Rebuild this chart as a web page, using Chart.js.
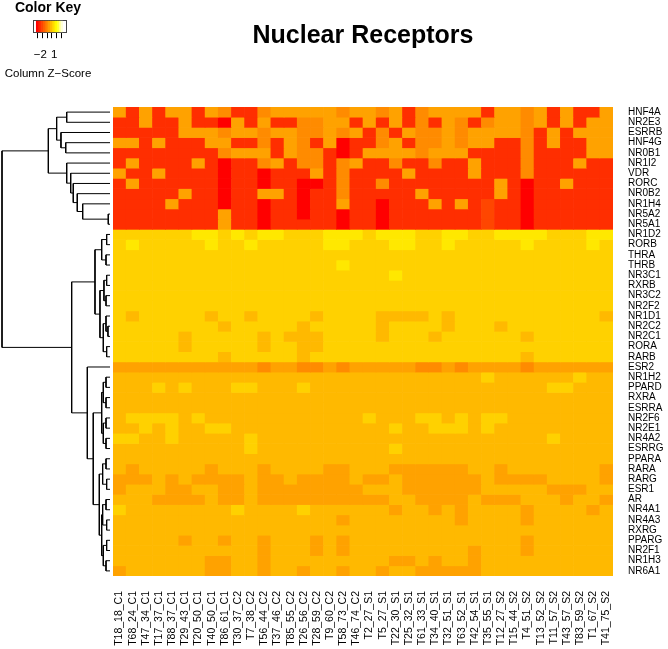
<!DOCTYPE html>
<html><head><meta charset="utf-8">
<script src="https://cdn.jsdelivr.net/npm/chart.js@4.4.1/dist/chart.umd.min.js"></script>
<style>
html,body{margin:0;padding:0;background:#fff;}
#wrap{position:relative;width:668px;height:649px;overflow:hidden;background:#fff;}
canvas{position:absolute;}
</style></head><body>
<div id="wrap">
<canvas id="dendro" width="113" height="649" style="left:0;top:0;width:113px;height:649px"></canvas>
<canvas id="key" width="96" height="92" style="left:0;top:0;width:96px;height:92px"></canvas>
<canvas id="heat" width="555" height="649" style="left:113px;top:0;width:555px;height:649px"></canvas>
</div>
<script>
const sampleCols = ['T18_18_C1','T68_24_C1','T47_34_C1','T17_37_C1','T88_37_C1','T29_43_C1','T20_50_C1','T40_50_C1','T86_61_C1',
 'T30_37_C2','T7_38_C2','T56_44_C2','T37_46_C2','T85_55_C2','T26_56_C2','T28_59_C2','T9_60_C2','T58_73_C2','T46_74_C2',
 'T2_27_S1','T5_27_S1','T22_30_S1','T25_32_S1','T61_33_S1','T34_40_S1','T32_51_S1','T63_52_S1','T42_54_S1','T35_55_S1',
 'T12_27_S2','T15_44_S2','T4_51_S2','T13_52_S2','T11_57_S2','T43_57_S2','T83_59_S2','T1_67_S2','T41_75_S2'];

const rowGenes = ['HNF4A','NR2E3','ESRRB','HNF4G','NR0B1','NR1I2','VDR','RORC','NR0B2','NR1H4','NR5A2','NR5A1',
 'NR1D2','RORB','THRA','THRB','NR3C1','RXRB','NR3C2','NR2F2','NR1D1','NR2C2','NR2C1','RORA','RARB',
 'ESR2','NR1H2','PPARD','RXRA','ESRRA','NR2F6','NR2E1','NR4A2','ESRRG','PPARA','RARA','RARG','ESR1','AR',
 'NR4A1','NR4A3','RXRG','PPARG','NR2F1','NR1H3','NR6A1'];

// heat.colors(15): colour bins of the column Z-score
const heatPalette = ['#FF0000','#FF1700','#FF2E00','#FF4600','#FF5D00','#FF7400','#FF8B00','#FFA200',
 '#FFB900','#FFD100','#FFE800','#FFFF00','#FFFF2B','#FFFF80','#FFFFD5'];
const keyRange = [-2.85, 2.85];
const keyTicks = [-2, -1, 0, 1, 2];
const keyTickLabels = ['\u22122', '', '', '1', ''];

// colour-bin index of every cell (row = gene, column = sample)
const zLevels = [
 [7,2,7,2,7,7,2,7,6,2, 2,6,7,7,7,7,7,6,7,7, 6,7,2,6,7,7,7,7,2,7, 7,6,7,2,7,2,2,7],
 [2,2,7,2,2,7,2,2,0,7, 2,7,2,2,6,6,7,7,2,7, 2,7,2,6,2,7,6,2,6,7, 7,6,7,2,7,2,7,7],
 [2,2,2,2,2,7,7,7,6,7, 7,6,7,7,6,6,7,6,7,2, 6,2,7,6,6,7,6,7,7,7, 7,6,2,7,2,7,7,7],
 [7,7,2,7,2,2,2,7,7,2, 2,6,2,7,6,2,7,0,2,2, 6,7,2,6,6,7,6,7,7,2, 2,6,2,7,2,2,7,7],
 [2,2,2,2,2,2,2,2,6,7, 7,7,2,7,6,6,2,0,2,7, 7,7,7,6,7,7,7,2,2,2, 2,6,2,2,2,2,7,7],
 [2,7,2,2,2,2,7,2,0,2, 2,6,7,2,6,6,2,6,7,2, 2,6,2,2,6,2,2,7,2,2, 2,6,2,2,2,7,2,2],
 [7,2,2,7,2,2,2,2,0,2, 2,0,2,2,2,7,2,6,2,2, 2,2,7,2,2,2,2,7,2,2, 2,6,2,2,2,2,2,2],
 [2,7,2,2,2,2,2,2,0,2, 2,0,2,2,0,0,2,6,2,2, 6,2,2,2,2,2,2,2,2,7, 2,0,2,2,7,2,2,2],
 [2,2,2,2,2,7,2,2,0,2, 2,7,7,2,0,2,2,6,2,2, 2,2,2,7,2,2,2,2,2,7, 2,0,2,2,2,2,2,2],
 [2,2,2,2,7,2,2,2,0,2, 2,0,2,2,0,2,2,7,2,2, 0,2,2,2,7,2,7,2,3,2, 2,0,2,2,2,2,2,2],
 [2,2,2,2,2,2,2,2,7,2, 2,0,2,2,0,2,2,0,2,2, 0,2,2,2,2,2,2,2,3,2, 2,0,2,2,2,2,2,2],
 [2,2,2,2,2,2,2,2,7,2, 2,0,2,2,2,2,2,0,2,2, 0,2,2,2,2,2,2,2,3,2, 2,0,2,2,2,2,2,2],
 [9,9,9,9,9,9,10,10,9,10, 9,10,10,9,9,9,10,10,10,9, 10,10,10,9,9,10,10,9,9,10, 10,10,10,9,9,9,10,10],
 [9,10,9,9,9,9,9,10,9,9, 10,9,9,9,9,9,10,10,9,9, 9,10,10,9,9,10,9,9,9,9, 9,10,9,9,9,9,10,9],
 [9,9,9,9,9,9,9,9,9,9, 9,9,9,9,9,9,9,9,9,9, 9,9,9,9,9,9,9,9,9,9, 9,9,9,9,9,9,9,9],
 [9,9,9,9,9,9,9,9,9,9, 9,9,9,9,9,9,9,10,9,9, 9,9,9,9,9,9,9,9,9,9, 9,9,9,9,9,9,9,9],
 [9,9,9,9,9,9,9,9,9,9, 9,9,9,9,9,9,9,9,9,9, 9,10,9,9,9,9,9,9,9,9, 9,9,9,9,9,9,9,9],
 [9,9,9,9,9,9,9,9,9,9, 9,9,9,9,9,9,9,9,9,9, 9,9,9,9,9,9,9,9,9,9, 9,9,9,9,9,9,9,9],
 [9,9,9,9,9,9,9,9,9,9, 9,9,9,9,9,9,9,9,9,9, 9,9,9,9,9,9,9,9,9,9, 9,9,9,9,9,9,9,9],
 [9,9,9,9,9,9,9,9,9,9, 9,9,9,9,9,9,9,9,9,9, 9,9,9,9,9,9,9,9,9,9, 9,9,9,9,9,9,9,9],
 [9,8,9,9,9,9,9,8,9,9, 8,9,9,9,9,8,9,9,9,9, 8,8,8,8,9,8,9,9,9,9, 9,9,9,9,9,9,9,8],
 [9,9,9,9,9,9,9,9,8,9, 9,9,9,9,8,9,9,9,9,9, 8,9,9,9,9,8,9,9,9,8, 9,9,9,9,9,9,9,9],
 [9,9,9,9,9,8,9,9,9,9, 9,8,9,8,8,8,9,9,9,9, 8,9,9,9,8,9,9,9,9,9, 9,8,9,9,9,9,9,9],
 [9,9,9,9,9,8,9,9,9,9, 9,8,9,9,8,8,9,9,9,9, 9,9,9,9,9,9,9,9,9,9, 9,9,9,9,9,9,9,9],
 [9,9,9,9,9,9,9,9,8,9, 9,9,9,9,8,9,9,9,9,9, 9,9,9,9,9,9,9,9,9,9, 9,8,9,9,9,9,9,9],
 [7,7,7,7,7,7,7,7,7,7, 7,6,7,7,6,6,7,6,7,7, 7,7,7,6,6,7,6,7,7,7, 7,6,7,7,7,7,7,7],
 [8,8,8,8,8,8,8,8,8,8, 8,8,8,8,8,8,8,8,8,8, 8,8,8,8,8,8,8,8,9,8, 8,8,8,8,8,9,8,8],
 [8,8,8,9,8,9,8,8,8,9, 9,8,8,8,9,8,8,8,8,8, 8,8,8,8,8,8,8,8,8,8, 8,8,8,9,9,8,8,8],
 [8,8,8,8,8,8,8,8,8,8, 8,8,8,8,8,8,8,8,8,8, 8,8,8,8,8,8,8,8,8,8, 8,8,8,8,8,8,8,8],
 [8,8,8,8,8,8,8,8,8,8, 8,8,8,8,8,8,8,8,8,8, 8,8,8,8,8,8,8,8,8,8, 8,8,8,8,8,8,8,8],
 [8,9,9,9,9,8,9,8,8,8, 8,8,8,8,8,8,8,8,8,9, 8,8,8,9,9,8,9,8,9,9, 8,8,8,8,8,8,8,8],
 [8,8,9,8,9,8,8,9,9,8, 8,8,8,8,8,8,8,8,8,8, 8,9,8,8,9,9,9,8,9,8, 8,8,8,8,8,8,8,8],
 [9,9,8,8,9,8,8,8,8,8, 9,8,8,8,8,8,8,8,8,8, 8,8,8,8,8,8,8,8,8,8, 8,8,8,9,8,8,8,8],
 [8,8,8,8,8,8,8,8,8,8, 9,8,8,8,8,8,8,8,8,8, 8,9,8,8,8,8,8,8,8,8, 8,8,8,8,8,8,8,8],
 [8,8,8,8,8,8,8,8,8,8, 8,8,8,8,8,8,8,8,8,8, 8,8,8,8,8,8,8,8,8,8, 8,8,8,8,8,8,8,8],
 [8,7,8,8,8,8,8,7,8,8, 8,7,8,8,8,8,7,7,8,8, 8,7,7,7,7,7,7,8,8,7, 8,8,8,8,8,8,8,7],
 [7,7,7,8,7,8,7,7,7,7, 8,7,7,8,7,7,7,7,8,7, 7,8,7,7,7,7,7,7,8,7, 7,7,7,8,8,8,8,7],
 [7,8,8,8,7,7,8,8,7,7, 8,7,7,7,7,7,7,7,7,8, 8,8,7,7,7,7,7,7,8,8, 8,8,8,7,7,7,8,8],
 [8,8,8,7,7,7,7,8,7,7, 8,7,7,7,7,7,7,7,7,7, 7,8,8,7,7,7,7,8,7,7, 7,8,8,8,7,8,8,7],
 [9,8,8,8,8,8,8,8,8,9, 8,8,8,8,9,8,8,8,8,8, 8,7,8,8,7,8,7,8,8,8, 8,7,8,8,8,8,7,8],
 [8,8,8,8,8,8,8,8,8,8, 8,8,8,8,8,8,8,7,8,8, 8,8,8,8,8,8,7,8,8,8, 8,7,8,8,8,8,8,8],
 [8,8,8,8,8,8,8,8,8,8, 8,8,8,8,8,8,8,8,8,8, 8,8,8,8,8,8,8,8,8,8, 8,8,8,8,8,8,8,8],
 [8,8,8,8,8,7,8,8,7,8, 8,7,8,8,8,7,8,7,8,8, 8,8,8,8,8,8,8,8,8,8, 8,7,8,8,8,8,8,8],
 [8,8,8,8,8,8,8,8,8,8, 8,7,8,8,8,7,8,7,8,8, 8,8,8,8,8,8,8,7,8,8, 8,7,8,8,8,8,8,8],
 [8,8,8,8,8,8,8,7,7,8, 8,7,8,8,8,8,8,8,8,8, 8,7,7,8,7,8,8,7,8,8, 8,8,8,8,8,8,8,8],
 [7,8,8,8,8,8,8,7,7,8, 8,7,8,8,7,8,8,7,8,8, 7,8,8,7,7,7,7,7,8,8, 8,8,8,8,8,8,8,8]
];

// row dendrogram: [child A, child B, merge height]; strings are genes, numbers are earlier merges
const dendroMerges = [
 ['HNF4A','NR2E3',4.01], ['HNF4G','NR0B1',4.10], ['ESRRB',1,4.54], [0,2,4.94],
 ['NR5A2','NR5A1',0.16], ['NR1H4',4,2.53], ['NR0B2',5,3.03], ['RORC',6,3.40], ['VDR',7,3.64], ['NR1I2',8,4.01],
 [3,9,5.71],
 ['NR1D2','RORB',0.31], ['THRA','THRB',0.37], [11,12,0.77],
 ['NR3C1','RXRB',0.31], ['NR3C2','NR2F2',0.37], [14,15,0.56],
 ['NR2C2','NR2C1',0.19], ['NR1D1',17,0.37], ['RORA','RARB',0.31], [18,19,0.62],
 [16,20,0.93], [13,21,1.39],
 ['NR1H2','PPARD',0.37], ['RXRA','ESRRA',0.37], [23,24,0.62],
 ['NR2F6','NR2E1',0.37], ['NR4A2','ESRRG',0.37], [26,27,0.62], [25,28,0.77],
 ['PPARA','RARA',0.37], ['RARG','ESR1',0.31], [30,31,0.68],
 ['AR','NR4A1',0.37], ['NR4A3','RXRG',0.31], [33,34,0.68],
 ['PPARG','NR2F1',0.31], ['NR1H3','NR6A1',0.37], [36,37,0.62], [35,38,0.77],
 [32,39,0.99], [29,40,1.55], ['ESR2',41,2.10], [22,42,3.55],
 [10,43,10.0]
];

Chart.defaults.font.family = '"Liberation Sans", Arial, Helvetica, sans-serif';
Chart.defaults.color = '#000';

/* ---------- heatmap ---------- */
const heatDatasets = rowGenes.map((g, r) => ({
  label: g,
  data: sampleCols.map(() => 1),
  backgroundColor: zLevels[r].map(l => heatPalette[l]),
  borderWidth: 0,
  barPercentage: 1,
  categoryPercentage: 1
}));

new Chart(document.getElementById('heat'), {
  type: 'bar',
  data: { labels: sampleCols, datasets: heatDatasets },
  options: {
    responsive: false, animation: false, devicePixelRatio: 1,
    layout: { padding: 0 },
    plugins: {
      legend: { display: false }, tooltip: { enabled: false },
      title: { display: true, text: 'Nuclear Receptors', fullSize: false, color: '#000',
               font: { size: 25, weight: 'bold' }, padding: { top: 21, bottom: 56 } }
    },
    scales: {
      x: { type: 'category', stacked: true, offset: true,
           grid: { display: false }, border: { display: false },
           ticks: { autoSkip: false, minRotation: 90, maxRotation: 90, padding: 7, color: '#000', font: { size: 10.5 } },
           afterFit(s) { s.height = 73; s.paddingLeft = 0; s.paddingRight = 0; } },
      y: { type: 'linear', stacked: true, reverse: true, min: 0, max: rowGenes.length, position: 'right',
           grid: { display: false }, border: { display: false },
           afterBuildTicks(s) { s.ticks = rowGenes.map((g, i) => ({ value: i + 0.5 })); },
           ticks: { autoSkip: false, padding: 7, color: '#000', font: { size: 10 },
                    callback: (v, i) => rowGenes[i] },
           afterFit(s) { s.width = 55; s.paddingTop = 0; s.paddingBottom = 0; } }
    }
  }
});

/* ---------- row dendrogram ---------- */
const leafPos = {};
rowGenes.forEach((g, i) => { leafPos[g] = { h: 0, y: i + 0.5 }; });
const mergeNodes = [];
const dendroSegments = dendroMerges.map(([a, b, h]) => {
  const A = typeof a === 'number' ? mergeNodes[a] : leafPos[a];
  const B = typeof b === 'number' ? mergeNodes[b] : leafPos[b];
  mergeNodes.push({ h: h, y: (A.y + B.y) / 2 });
  return [{ x: A.h, y: A.y }, { x: h, y: A.y }, { x: h, y: B.y }, { x: B.h, y: B.y }];
});
const rootHeight = dendroMerges[dendroMerges.length - 1][2];

new Chart(document.getElementById('dendro'), {
  type: 'scatter',
  data: { datasets: dendroSegments.map(seg => ({
    data: seg, showLine: true, borderColor: '#000', borderWidth: 1, pointRadius: 0, tension: 0, clip: 2
  })) },
  options: {
    responsive: false, animation: false, devicePixelRatio: 1,
    layout: { padding: { left: 2, right: 3, top: 107, bottom: 73 } },
    plugins: { legend: { display: false }, tooltip: { enabled: false } },
    scales: {
      x: { type: 'linear', reverse: true, min: 0, max: rootHeight, display: false },
      y: { type: 'linear', reverse: true, min: 0, max: rowGenes.length, display: false }
    }
  }
});

/* ---------- colour key ---------- */
const binW = (keyRange[1] - keyRange[0]) / heatPalette.length;
const keyBins = heatPalette.map((c, k) => ({ x: keyRange[0] + (k + 0.5) * binW, y: 1 }));
const boxAxis = (pos, size) => ({ type: 'linear', position: pos, min: 0, max: 1,
  grid: { display: false }, ticks: { display: false }, border: { display: true, color: '#444', width: 1 },
  afterFit(s) { if (pos === 'top' || pos === 'bottom') s.height = size; else s.width = size; } });

new Chart(document.getElementById('key'), {
  type: 'bar',
  data: { datasets: [{ data: keyBins, backgroundColor: heatPalette, borderWidth: 0,
                       barPercentage: 1, categoryPercentage: 1, xAxisID: 'x', yAxisID: 'y' }] },
  options: {
    responsive: false, animation: false, devicePixelRatio: 1,
    layout: { padding: 0 },
    plugins: {
      legend: { display: false }, tooltip: { enabled: false },
      title: { display: true, text: 'Color Key', color: '#000',
               font: { size: 14, weight: 'bold' }, padding: { top: 0, bottom: 4 } },
      subtitle: { display: true, position: 'bottom', text: 'Column Z\u2212Score', color: '#000',
                  font: { size: 11.5 }, padding: { top: 0, bottom: 11 } }
    },
    scales: {
      x: { type: 'linear', position: 'bottom', min: keyRange[0], max: keyRange[1],
           afterBuildTicks(s) { s.ticks = keyTicks.map(v => ({ value: v })); },
           ticks: { autoSkip: false, maxRotation: 0, color: '#000', font: { size: 11.5 }, padding: 10,
                    callback: (v, i) => keyTickLabels[i] },
           grid: { display: true, drawOnChartArea: false, drawTicks: true, tickLength: 6, color: '#000' },
           border: { display: true, color: '#444' },
           afterFit(s) { s.height = 35; s.paddingLeft = 0; s.paddingRight = 0; } },
      y: boxAxis('left', 33),
      x2: boxAxis('top', 0),
      y2: boxAxis('right', 30)
    }
  }
});
</script>
</body></html>
